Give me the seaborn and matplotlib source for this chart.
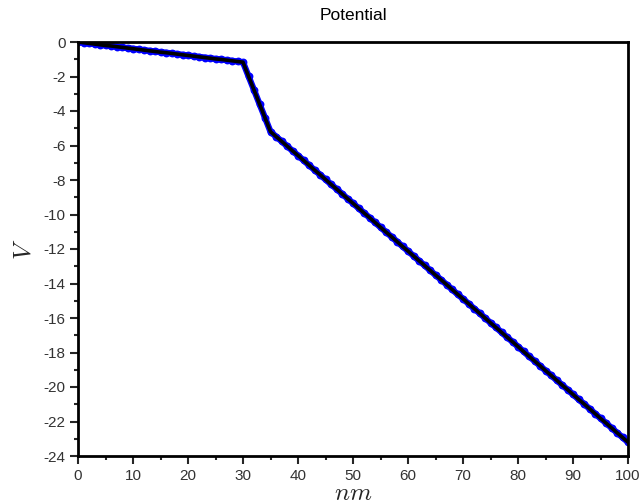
import numpy as np
import pandas as pd
import matplotlib
matplotlib.use("Agg")
import matplotlib.pyplot as plt
import seaborn as sns
from matplotlib.ticker import MultipleLocator

# potential profile, one point per nm
x_nm = list(range(0, 101))
v_pot = [
    0.00, -0.04, -0.08, -0.12, -0.16, -0.20, -0.23, -0.27, -0.31, -0.35,
    -0.39, -0.43, -0.47, -0.51, -0.55, -0.59, -0.62, -0.66, -0.70, -0.74,
    -0.78, -0.82, -0.86, -0.90, -0.94, -0.98, -1.01, -1.05, -1.09, -1.13,
    -1.17, -1.98, -2.78, -3.59, -4.39, -5.20, -5.48, -5.75, -6.03, -6.31,
    -6.58, -6.86, -7.14, -7.42, -7.69, -7.97, -8.25, -8.52, -8.80, -9.08,
    -9.35, -9.63, -9.91, -10.18, -10.46, -10.74, -11.02, -11.29, -11.57, -11.85,
    -12.12, -12.40, -12.68, -12.95, -13.23, -13.51, -13.78, -14.06, -14.34, -14.62,
    -14.89, -15.17, -15.45, -15.72, -16.00, -16.28, -16.55, -16.83, -17.11, -17.38,
    -17.66, -17.94, -18.22, -18.49, -18.77, -19.05, -19.32, -19.60, -19.88, -20.15,
    -20.43, -20.71, -20.98, -21.26, -21.54, -21.82, -22.09, -22.37, -22.65, -22.92,
    -23.20,
]
x_ticks = list(range(0, 101, 10))
y_ticks = list(range(-24, 1, 2))

df = pd.DataFrame({"nm": x_nm, "V": v_pot})

sns.set_style("ticks")
plt.rcParams["font.family"] = ["Liberation Sans", "DejaVu Sans"]
plt.rcParams["mathtext.fontset"] = "cm"
plt.rcParams["axes.unicode_minus"] = False

fig = plt.figure(figsize=(6.41, 5.04), dpi=100)
ax = fig.add_axes([78 / 641, 48 / 504, 550 / 641, 414 / 504])

# blue dotted band under a black line
sns.lineplot(data=df, x="nm", y="V", ax=ax, color="blue", linewidth=4.5,
             zorder=2)
sns.scatterplot(data=df, x="nm", y="V", ax=ax, color="blue", s=32,
                edgecolor="blue", linewidth=0, zorder=2)
sns.lineplot(data=df, x="nm", y="V", ax=ax, color="black", linewidth=2.6,
             zorder=3)

ax.set_xlim(0, 100)
ax.set_ylim(-24, 0)
ax.set_xticks(x_ticks)
ax.set_yticks(y_ticks)
ax.xaxis.set_minor_locator(MultipleLocator(5))
ax.yaxis.set_minor_locator(MultipleLocator(1))
ax.tick_params(which="major", direction="out", length=6, width=1.5,
               labelsize=11, labelcolor="#333333", pad=3)
ax.tick_params(which="minor", direction="out", length=3, width=1.5)
for s in ax.spines.values():
    s.set_linewidth(2)
    s.set_color("black")

ax.set_title("Potential", fontsize=12.5, color="black", pad=16)
ax.set_xlabel("$nm$", fontsize=18, labelpad=-1)
ax.set_ylabel("$V$", fontsize=18, labelpad=6)

fig.savefig("out.png", dpi=100)
